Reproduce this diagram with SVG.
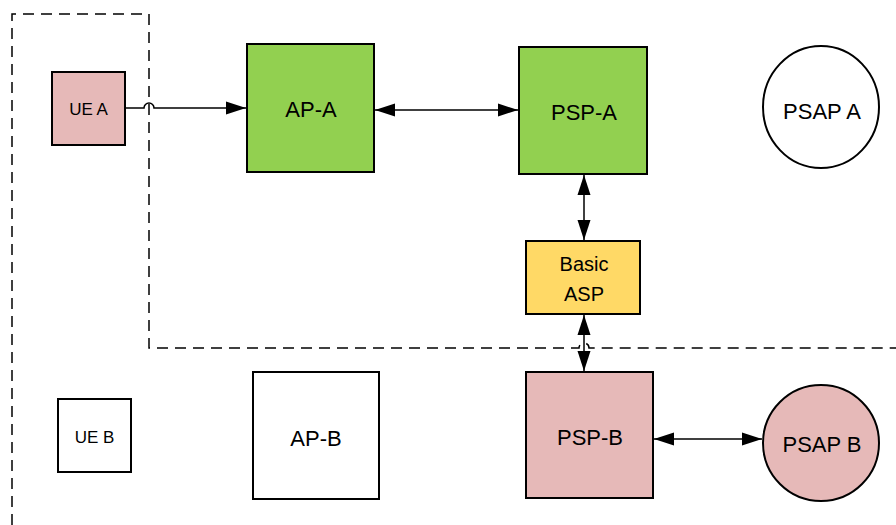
<svg xmlns="http://www.w3.org/2000/svg" width="896" height="525" viewBox="0 0 896 525">
<style>
.box{stroke:#000;stroke-width:2}
.lbl{font-family:"Liberation Sans",Arial,sans-serif;font-size:22px;fill:#000;text-anchor:middle;dominant-baseline:central}
.sm{font-size:17px}
.mid{font-size:20px}
.conn{fill:none;stroke:#000;stroke-width:1.5}
.dash{fill:none;stroke:#000;stroke-width:1.5;stroke-dasharray:11 7}
</style>
<defs>
<marker id="ah" markerUnits="userSpaceOnUse" markerWidth="20" markerHeight="14" refX="20" refY="7" orient="auto-start-reverse" viewBox="0 0 20 14">
<path d="M0,0.5 L20,7 L0,13.5 z" fill="#000"/>
</marker>
</defs>
<rect width="896" height="525" fill="#fff"/>
<g id="boundary">
<path class="dash" d="M12,525 V14 H149 V348 H579 A5,5 0 0 1 589,348 H896"/>
</g>
<g id="ue-a"><rect class="box" x="52" y="72" width="73" height="73" fill="#E6B9B8"/><text class="lbl sm" x="88.5" y="109">UE A</text></g>
<g id="ap-a"><rect class="box" x="247" y="44" width="127" height="128" fill="#92D050"/><text class="lbl" x="311" y="109">AP-A</text></g>
<g id="psp-a"><rect class="box" x="519" y="47" width="128" height="127" fill="#92D050"/><text class="lbl" x="584" y="112">PSP-A</text></g>
<g id="psap-a"><ellipse class="box" cx="821" cy="107" rx="58" ry="61" fill="#fff"/><text class="lbl" x="822" y="111">PSAP A</text></g>
<g id="basic-asp"><rect class="box" x="526" y="241" width="114" height="73" fill="#FFD966"/><text class="lbl mid" x="584" y="264">Basic</text><text class="lbl mid" x="584" y="294">ASP</text></g>
<g id="ue-b"><rect class="box" x="58" y="399" width="73" height="73" fill="#fff"/><text class="lbl sm" x="94.5" y="437">UE B</text></g>
<g id="ap-b"><rect class="box" x="253" y="372" width="126" height="127" fill="#fff"/><text class="lbl" x="316" y="438">AP-B</text></g>
<g id="psp-b"><rect class="box" x="526" y="372" width="127" height="126" fill="#E6B9B8"/><text class="lbl" x="590" y="437">PSP-B</text></g>
<g id="psap-b"><circle class="box" cx="821" cy="443" r="58" fill="#E6B9B8"/><text class="lbl" x="822" y="444">PSAP B</text></g>
<g id="connectors">
<path class="conn" d="M125,108 H144 A5,5 0 0 1 154,108 H246" marker-end="url(#ah)"/>
<path class="conn" d="M375,110 H518" marker-start="url(#ah)" marker-end="url(#ah)"/>
<path class="conn" d="M584,175 V240" marker-start="url(#ah)" marker-end="url(#ah)"/>
<path class="conn" d="M584,315 V371" marker-start="url(#ah)" marker-end="url(#ah)"/>
<path class="conn" d="M654,439 H762" marker-start="url(#ah)" marker-end="url(#ah)"/>
</g>
</svg>
